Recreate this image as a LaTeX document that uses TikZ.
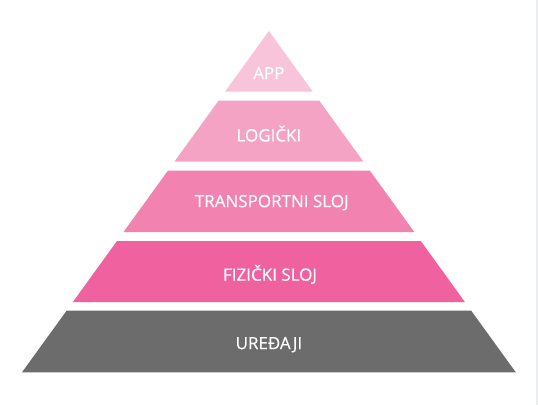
\documentclass[tikz,border=0pt]{standalone}
\usepackage{fontspec}
\setmainfont{Open Sans}
\newfontfamily\lblfont{Open Sans}[FakeBold=0.4]
\definecolor{cApp}{HTML}{F7C4DA}
\definecolor{cLog}{HTML}{F4A3C5}
\definecolor{cTra}{HTML}{F283B1}
\definecolor{cFiz}{HTML}{EF629F}
\definecolor{cUre}{HTML}{6C6C6C}
\definecolor{cEdge}{HTML}{E9EDF5}
\begin{document}
\begin{tikzpicture}[x=1pt,y=-1pt,
  layertext/.style={text=white,font=\lblfont\fontsize{17}{20}\selectfont,inner sep=0pt,anchor=base}]
\useasboundingbox (0,0) rectangle (538,405);
\fill[white] (0,0) rectangle (538,405);
\fill[cEdge] (536,0) rectangle (538,405);
% layers (apex at 268.9,31; half-width = 0.7233*(y-31))
\fill[cApp] (268.9,31) -- (312.8,91.7) -- (225.0,91.7) -- cycle;
\fill[cLog] (218.5,100.7) -- (319.3,100.7) -- (363.4,161.7) -- (174.4,161.7) -- cycle;
\fill[cTra] (167.9,170.7) -- (369.9,170.7) -- (414.3,232) -- (123.5,232) -- cycle;
\fill[cFiz] (117.0,241) -- (420.8,241) -- (464.9,302) -- (72.9,302) -- cycle;
\fill[cUre] (66.6,310.7) -- (471.2,310.7) -- (515.8,372.3) -- (22.0,372.3) -- cycle;
% labels (baseline = cap centre + 6)
\node[layertext] (app) at (268.9,79.2) {APP};
\node[layertext] (logicki) at (268.9,141.4) {LOGIČKI};
\node[layertext] (transport) at (271.7,207.2) {TRANSPORTNI SLOJ};
\node[layertext] (fizicki) at (270,280.7) {FIZIČKI SLOJ};
\node[layertext] (uredjaji) at (268.9,349.2) {UREĐAJI};
\end{tikzpicture}
\end{document}
